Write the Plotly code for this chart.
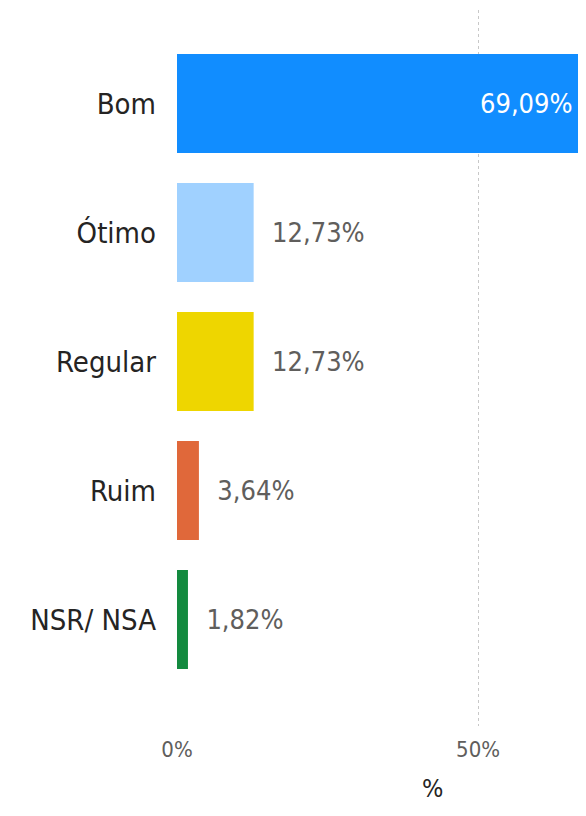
import plotly.graph_objects as go

categorias = ["Bom", "Ótimo", "Regular", "Ruim", "NSR/ NSA"]
valores = [69.09, 12.73, 12.73, 3.64, 1.82]
cores = ["#118DFF", "#A0D1FF", "#EED600", "#E0683A", "#138A3F"]
# o rotulo do Bom vai numa anotacao, pois a barra passa da borda do grafico
posicao_texto = ["none", "outside", "outside", "outside", "outside"]
ticks_x = [0, 50]
ticks_texto = ["0%", "50%"]

FONTE = "DejaVu Sans Condensed, DejaVu Sans, sans-serif"
NB = "\u00a0\u00a0"

rotulo_bom = f"{valores[0]:.2f}%".replace(".", ",")

fig = go.Figure()

fig.add_trace(go.Bar(
    x=valores,
    y=categorias,
    orientation="h",
    marker=dict(color=cores, line=dict(width=0)),
    width=0.767,
    texttemplate=NB + "%{x:.2f}%",
    textposition=posicao_texto,
    textfont=dict(family=FONTE, size=27, color="#605E5C"),
    cliponaxis=True,
    hoverinfo="skip",
))

fig.update_layout(
    width=570,
    height=800,
    margin=dict(l=169, r=0, t=2, b=82),
    paper_bgcolor="white",
    plot_bgcolor="white",
    separators=",.",
    showlegend=False,
    font=dict(family=FONTE),
    xaxis=dict(
        range=[0, 66.6],
        tickmode="array",
        tickvals=ticks_x,
        ticktext=ticks_texto,
        showgrid=True,
        gridcolor="#C8C8C8",
        griddash="dot",
        gridwidth=1,
        zeroline=False,
        showline=False,
        ticks="",
        ticklabelstandoff=8,
        tickfont=dict(family=FONTE, size=22, color="#605E5C"),
    ),
    yaxis=dict(
        categoryorder="array",
        categoryarray=categorias,
        range=[4.826, -0.725],
        showgrid=False,
        zeroline=False,
        showline=False,
        ticks="",
        ticklabelstandoff=20,
        tickfont=dict(family=FONTE, size=29, color="#252423"),
    ),
    annotations=[
        dict(
            text=rotulo_bom,
            xref="paper", yref="y",
            x=1, y=categorias[0],
            xanchor="right", yanchor="middle",
            xshift=-3,
            showarrow=False,
            font=dict(family=FONTE, size=27, color="#FFFFFF"),
        ),
        dict(
            text="%",
            xref="paper", yref="paper",
            x=0.636, y=-0.087,
            xanchor="center", yanchor="middle",
            showarrow=False,
            borderpad=0,
            font=dict(family=FONTE, size=25, color="#252423"),
        ),
    ],
)

fig.write_html("out.html")
